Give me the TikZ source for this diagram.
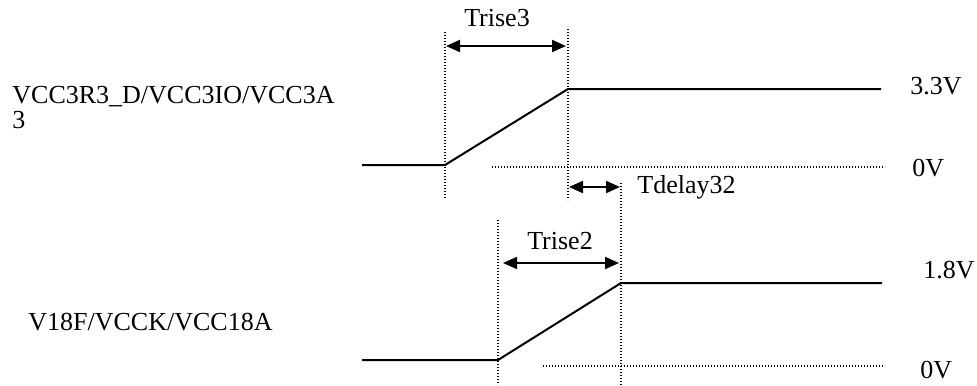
\documentclass[tikz,border=0pt]{standalone}
\usepackage{fontspec}
\setmainfont{Liberation Serif}
\usetikzlibrary{arrows.meta}

\begin{document}
\begin{tikzpicture}[x=0.5pt, y=-0.5pt,
    signal/.style={line width=1pt},
    guide/.style={line width=0.6pt, dash pattern=on 0.6pt off 0.9pt},
    span/.style={line width=1pt, {Triangle[length=7pt,width=6pt]}-{Triangle[length=7pt,width=6pt]}},
    lbl/.style={inner sep=0pt, font=\fontsize{13}{12.5}\selectfont}]

  \useasboundingbox (0,0) rectangle (977,385);

  % 3.3V rail
  \coordinate (a0) at (362,165);
  \coordinate (a1) at (445,165);
  \coordinate (a2) at (568,89);
  \coordinate (a3) at (881,89);
  \draw[signal] (a0) -- (a1) -- (a2) -- (a3);

  \coordinate (a1t) at (445,32);
  \coordinate (a1b) at (445,199);
  \coordinate (a2t) at (568,29);
  \coordinate (a2b) at (568,200);
  \draw[guide] (a1t) -- (a1b);
  \draw[guide] (a2t) -- (a2b);

  \coordinate (a0l) at (492,167);
  \coordinate (a0r) at (885,167);
  \draw[guide] (a0l) -- (a0r);

  \coordinate (r3l) at (446,46);
  \coordinate (r3r) at (566,46);
  \draw[span] (r3l) -- (r3r);
  \node[lbl] (trise3) at (497,18) {Trise3};

  \node[lbl, anchor=west] (v33) at (910,86) {3.3V};
  \node[lbl, anchor=west] (v0a) at (912,168) {0V};
  \node[lbl, anchor=base west, align=left] (vcc3) at (12,128)
    {VCC3R3\_D/VCC3IO/VCC3A\\3};

  % delay between the rails
  \coordinate (d0) at (569,187);
  \coordinate (d1) at (620,187);
  \draw[span] (d0) -- (d1);
  \node[lbl, anchor=west] (tdelay) at (637,187) {Tdelay32};

  % 1.8V rail
  \coordinate (b0) at (362,360);
  \coordinate (b1) at (498,360);
  \coordinate (b2) at (621,283);
  \coordinate (b3) at (882,283);
  \draw[signal] (b0) -- (b1) -- (b2) -- (b3);

  \coordinate (b1t) at (498,220);
  \coordinate (b1b) at (498,385);
  \coordinate (b2t) at (621,183);
  \coordinate (b2b) at (621,385);
  \draw[guide] (b1t) -- (b1b);
  \draw[guide] (b2t) -- (b2b);

  \coordinate (b0l) at (543,366);
  \coordinate (b0r) at (885,366);
  \draw[guide] (b0l) -- (b0r);

  \coordinate (r2l) at (503,263);
  \coordinate (r2r) at (619,263);
  \draw[span] (r2l) -- (r2r);
  \node[lbl] (trise2) at (560,241) {Trise2};

  \node[lbl, anchor=west] (v18) at (923,270) {1.8V};
  \node[lbl, anchor=west] (v0b) at (920,370) {0V};
  \node[lbl, anchor=base west] (vcc18) at (28,330) {V18F/VCCK/VCC18A};

\end{tikzpicture}
\end{document}
